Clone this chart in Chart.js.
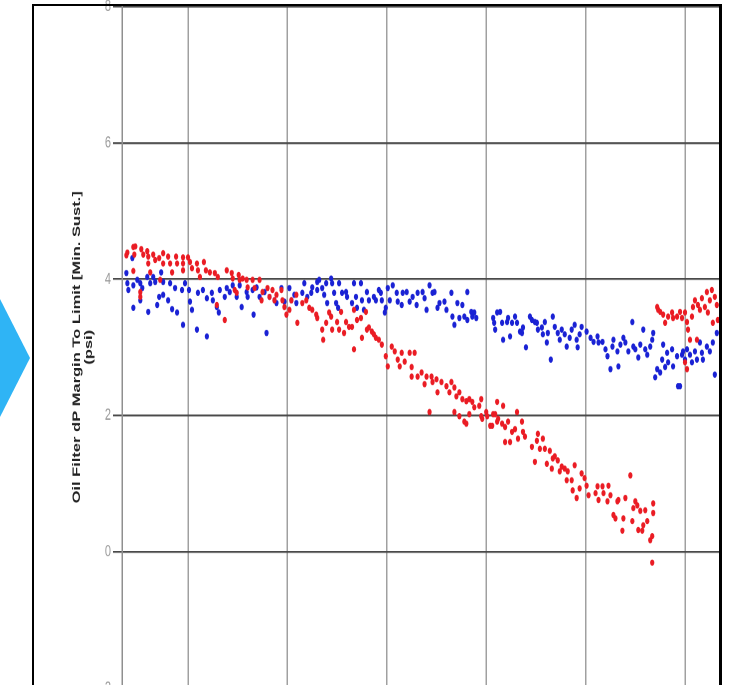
<!DOCTYPE html>
<html>
<head>
<meta charset="utf-8">
<script src="https://cdn.jsdelivr.net/npm/chart.js@4.4.1/dist/chart.umd.min.js"></script>
<style>
  html, body { margin: 0; padding: 0; background: #fff; }
  #page { position: relative; width: 736px; height: 685px; overflow: hidden; background: #fff; }
  #arrow { position: absolute; left: 0; top: 299px; width: 30px; height: 118px; background: #2fb4f5;
           clip-path: polygon(0 0, 100% 50%, 0 100%); }
  #frame { position: absolute; left: 32px; top: 4px; width: 685px; height: 720px; pointer-events: none;
           border-left: 2px solid #000; border-top: 2px solid #000; border-right: 3px solid #000; z-index: 2; }
  /* the source picture is stretched vertically, so the chart is drawn squat and scaled up */
  #holder { position: absolute; left: 0; top: -10px; width: 736px; height: 474px;
            transform: scaleY(1.5); transform-origin: 0 0; }
</style>
</head>
<body>
<div id="page">
  <div id="arrow"></div>
  <div id="holder"><canvas id="chart"></canvas></div>
  <div id="frame"></div>
</div>
<script>
// y axis
const yTitle = ["Oil Filter dP Margin To Limit [Min. Sust.]", "(psi)"];
const yMin = -2, yMax = 8, yStep = 2;
// x axis (tick labels are cut off in the source, only grid lines show)
const xTicks = [100, 200, 300, 400, 500, 600];
const xMin = 33.6, xMax = 635.2;

// blue series
const blueX = [38,39,40,44,45,45,49,52,54,52,59,60,62,65,67,69,71,73,75,75,80,82,84,87,89,94,95,97,101,102,104,109,110,115,119,119,124,125,129,131,132,137,139,
  142,145,149,152,154,159,160,165,166,169,172,177,179,182,187,189,194,197,202,204,207,209,217,215,220,224,225,230,232,230,235,237,239,240,244,245,247,249,251,252,255,259,260,265,267,269,270,274,275,277,280,282,287,289,292,294,295,298,299,
  301,303,306,310,311,315,316,320,323,326,330,331,336,338,340,343,346,348,351,353,358,360,365,366,368,371,373,376,378,381,381,385,386,388,390,
  407,408,409,411,414,416,417,421,422,424,426,429,431,434,436,437,440,444,446,449,451,452,456,457,459,461,462,465,467,469,472,474,476,479,481,484,486,489,491,492,494,496,
  501,505,508,512,513,517,520,522,525,527,528,532,533,535,538,540,543,547,548,550,553,555,558,560,562,565,567,568,570,572,575,577,578,580,582,583,587,588,592,593,595,597,598,600,602,605,607,610,612,615,617,618,622,625,628,630,632];
const blueY = [4.09,3.94,3.84,4.31,3.91,3.58,3.99,3.94,3.87,3.69,4.03,3.52,3.94,4.03,3.96,3.62,3.74,4.10,3.96,3.77,3.69,3.94,3.56,3.87,3.51,3.84,3.33,3.94,3.84,3.67,3.55,3.26,3.80,3.84,3.16,3.72,3.80,3.69,3.59,3.51,3.84,3.74,3.87,
  3.81,3.91,3.74,3.91,3.59,3.81,3.74,3.84,3.48,3.88,3.74,3.81,3.21,3.74,3.69,3.65,3.87,3.67,3.87,3.69,3.77,3.65,3.94,3.80,3.74,3.80,3.88,3.96,3.99,3.84,3.87,3.77,3.94,3.65,4.01,3.94,3.80,3.65,3.58,3.94,3.80,3.81,3.74,3.65,3.94,3.74,3.58,3.94,3.69,3.55,3.81,3.69,3.74,3.69,3.84,3.80,3.69,3.51,3.58,
  3.87,3.69,3.91,3.80,3.67,3.62,3.80,3.81,3.67,3.74,3.62,3.80,3.81,3.72,3.55,3.91,3.80,3.81,3.58,3.65,3.67,3.55,3.80,3.45,3.33,3.65,3.43,3.62,3.45,3.81,3.40,3.52,3.45,3.51,3.43,
  3.43,3.36,3.26,3.51,3.52,3.36,3.11,3.37,3.43,3.16,3.36,3.45,3.36,3.23,3.21,3.29,3.00,3.45,3.40,3.37,3.36,3.26,3.29,3.19,3.37,3.07,3.21,2.82,3.45,3.30,3.21,3.11,3.26,3.19,3.01,3.14,3.26,3.33,3.11,3.00,3.19,3.30,
  3.23,3.14,3.08,3.16,3.07,3.08,2.97,2.87,2.68,3.01,3.11,2.94,2.72,3.04,3.14,3.07,2.94,3.37,3.01,2.97,2.85,3.04,3.26,2.97,2.89,3.01,3.11,3.21,2.56,2.68,2.63,2.82,3.04,2.71,2.92,2.78,2.97,2.72,2.87,2.43,2.43,2.89,2.94,2.82,2.97,2.89,2.78,2.94,2.82,3.07,2.92,2.82,3.01,2.94,3.07,2.60,3.21];

// red series
const redX = [38,39,45,47,46,53,55,59,60,60,65,67,71,75,75,80,82,84,88,89,95,95,95,100,102,104,109,110,112,116,118,122,127,130,139,45,52,52,72,129,62,
  144,145,147,151,152,155,159,160,165,167,172,175,174,180,182,185,187,189,194,195,197,199,202,204,209,210,137,149,
  215,219,222,225,229,230,235,236,239,242,244,245,250,252,254,257,259,262,265,267,267,270,274,275,279,280,282,285,287,289,292,295,299,
  301,305,308,311,313,315,318,323,325,328,325,331,335,338,340,345,346,350,351,355,360,363,365,368,370,373,376,380,383,386,388,393,395,343,368,373,378,380,383,396,395,400,
  401,404,406,407,409,411,411,412,416,417,419,419,422,424,426,429,431,432,436,437,439,446,449,451,452,454,457,459,461,464,466,467,469,472,474,476,479,481,482,486,487,489,491,494,496,499,
  501,503,510,512,513,517,518,522,523,525,528,530,532,533,537,538,540,545,547,548,550,552,553,555,557,558,560,562,565,567,568,568,567,
  572,573,575,578,580,583,587,588,592,595,597,600,602,603,605,607,608,610,612,613,615,617,620,622,623,625,627,628,630,632,633,602,600];
const redY = [4.35,4.39,4.47,4.48,4.36,4.44,4.36,4.41,4.33,4.23,4.36,4.28,4.31,4.38,4.23,4.33,4.23,4.10,4.33,4.23,4.32,4.23,4.13,4.32,4.25,4.16,4.23,4.13,4.03,4.25,4.13,4.10,4.09,4.03,4.13,4.12,3.81,3.74,3.99,3.62,4.10,
  4.09,4.01,3.84,4.06,3.99,4.01,3.99,3.88,3.99,3.87,3.99,3.81,3.69,3.87,3.74,3.84,3.69,3.77,3.84,3.69,3.59,3.48,3.55,3.69,3.77,3.36,3.40,3.80,
  3.65,3.69,3.58,3.55,3.48,3.43,3.26,3.11,3.36,3.51,3.45,3.26,3.37,3.26,3.52,3.21,3.37,3.30,3.30,3.55,2.97,3.40,3.43,3.14,3.52,3.26,3.29,3.23,3.19,3.14,3.11,3.04,2.87,
  2.72,3.01,2.94,2.82,2.72,2.92,2.79,2.92,2.71,2.92,2.57,2.57,2.63,2.46,2.57,2.57,2.49,2.53,2.34,2.49,2.43,2.34,2.49,2.41,2.28,2.34,2.24,2.21,2.24,2.20,2.12,2.14,1.99,2.05,2.05,1.99,1.91,1.88,2.02,1.95,2.24,2.05,
  1.99,1.85,1.85,2.02,2.02,1.91,2.20,1.95,1.88,2.14,1.83,1.61,1.91,1.61,1.76,1.80,2.05,1.66,1.91,1.76,1.69,1.54,1.32,1.63,1.73,1.51,1.66,1.51,1.29,1.48,1.22,1.37,1.40,1.34,1.18,1.25,1.22,1.05,1.18,1.05,0.90,1.27,0.79,0.93,1.15,1.08,
  0.97,0.83,0.86,0.96,0.76,0.96,0.86,0.74,0.97,0.83,0.54,0.49,0.74,0.76,0.31,0.49,0.79,1.12,0.45,0.64,0.74,0.68,0.32,0.60,0.31,0.39,0.61,0.45,0.17,0.23,0.71,0.57,-0.16,
  3.59,3.55,3.52,3.48,3.36,3.45,3.51,3.43,3.45,3.52,3.43,3.51,3.37,3.26,3.11,3.45,3.59,3.69,3.11,3.62,3.55,3.72,3.59,3.81,3.51,3.69,3.84,3.36,3.74,3.62,3.40,2.68,2.78];

function toPoints(xs, ys) {
  return xs.map((x, i) => ({ x: x, y: ys[i] }));
}

const fontFamily = "'Liberation Sans', Arial, sans-serif";

new Chart(document.getElementById("chart"), {
  type: "scatter",
  data: {
    datasets: [
      { label: "red", data: toPoints(redX, redY), backgroundColor: "#ea1c24", borderWidth: 0, pointRadius: 2.1 },
      { label: "blue", data: toPoints(blueX, blueY), backgroundColor: "#1a22d4", borderWidth: 0, pointRadius: 2.1 }
    ]
  },
  options: {
    responsive: true,
    maintainAspectRatio: false,
    devicePixelRatio: 2,
    animation: false,
    layout: { padding: { left: 60, right: 16, top: 11, bottom: 3 } },
    plugins: { legend: { display: false }, tooltip: { enabled: false } },
    scales: {
      x: {
        type: "linear",
        min: xMin,
        max: xMax,
        afterBuildTicks: function (scale) {
          scale.ticks = xTicks.map(v => ({ value: v }));
        },
        ticks: { display: false },
        grid: { color: "#a0a0a0", lineWidth: 1.5, drawTicks: false },
        border: { display: false }
      },
      y: {
        min: yMin,
        max: yMax,
        ticks: { stepSize: yStep, color: "#999", padding: 2, font: { family: fontFamily, size: 11 } },
        grid: { color: "#4a4a4a", lineWidth: 1.2, tickLength: 9 },
        border: { display: true, color: "#8f8f8f", width: 1.5 },
        title: {
          display: true,
          text: yTitle,
          color: "#222",
          padding: { top: 11, bottom: 0 },
          font: { family: fontFamily, size: 11, weight: "bold", lineHeight: "12px" }
        },
        afterFit: function (scale) { scale.width = 62; }
      }
    }
  }
});
</script>
</body>
</html>
